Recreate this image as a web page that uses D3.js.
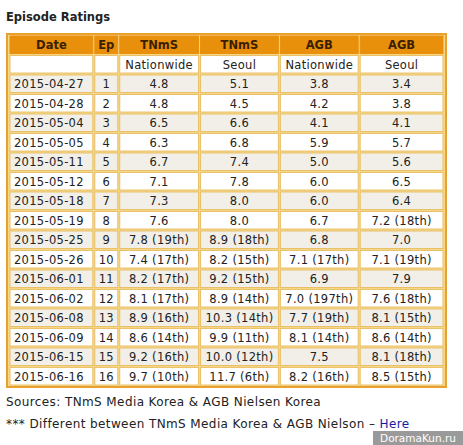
<!DOCTYPE html><html><head><meta charset="utf-8"><script src="https://cdn.jsdelivr.net/npm/d3@7"></script>
<style>body{margin:0;background:#fff}text{font-family:"DejaVu Sans",Verdana,sans-serif}</style></head><body>
<svg id="c" width="463" height="445"></svg>
<script>
const headers=["Date","Ep","TNmS","TNmS","AGB","AGB"];
const subheaders=["","","Nationwide","Seoul","Nationwide","Seoul"];
const dates=["2015-04-27","2015-04-28","2015-05-04","2015-05-05","2015-05-11","2015-05-12","2015-05-18","2015-05-19","2015-05-25","2015-05-26","2015-06-01","2015-06-02","2015-06-08","2015-06-09","2015-06-15","2015-06-16"];
const eps=["1","2","3","4","5","6","7","8","9","10","11","12","13","14","15","16"];
const tnmsNation=["4.8","4.8","6.5","6.3","6.7","7.1","7.3","7.6","7.8 (19th)","7.4 (17th)","8.2 (17th)","8.1 (17th)","8.9 (16th)","8.6 (14th)","9.2 (16th)","9.7 (10th)"];
const tnmsSeoul=["5.1","4.5","6.6","6.8","7.4","7.8","8.0","8.0","8.9 (18th)","8.2 (15th)","9.2 (15th)","8.9 (14th)","10.3 (14th)","9.9 (11th)","10.0 (12th)","11.7 (6th)"];
const agbNation=["3.8","4.2","4.1","5.9","5.0","6.0","6.0","6.7","6.8","7.1 (17th)","6.9","7.0 (197th)","7.7 (19th)","8.1 (14th)","7.5","8.2 (16th)"];
const agbSeoul=["3.4","3.8","4.1","5.7","5.6","6.5","6.4","7.2 (18th)","7.0","7.1 (19th)","7.9","7.6 (18th)","8.1 (15th)","8.6 (14th)","8.1 (18th)","8.5 (15th)"];
const colWidths=[85,25,81,80,80,85];

const svg=d3.select("#c");
svg.append("text").attr("x",6).attr("y",21).attr("font-size",11.5).attr("font-weight","bold").attr("fill","#222").text("Episode Ratings");
const rows=[headers,subheaders].concat(dates.map((d,i)=>[d,eps[i],tnmsNation[i],tnmsSeoul[i],agbNation[i],agbSeoul[i]]));
const x0=8,x1=445,y0=35,y1=386;
svg.append("rect").attr("x",x0-2).attr("y",y0-2).attr("width",x1-x0+4).attr("height",y1-y0+4).attr("fill","#e8a030");
svg.append("rect").attr("x",x0).attr("y",y0).attr("width",x1-x0).attr("height",y1-y0).attr("fill","#f6d88a");
const cum=[0];colWidths.forEach(w=>cum.push(cum[cum.length-1]+w));
const xs=d3.scaleLinear().domain([0,cum[cum.length-1]]).range([x0+1,x1-1]);
const ys=d3.scaleBand().domain(d3.range(rows.length)).range([y0+1,y1-1]).paddingInner(0.1);
rows.forEach((r,ri)=>{
  r.forEach((v,ci)=>{
    const cx=xs(cum[ci])+1, cw=xs(cum[ci+1])-xs(cum[ci])-2;
    const fill=ri===0?"#e8900c":(ri>=2&&ri%2===0?"#f1efe8":"#fff");
    svg.append("rect").attr("x",cx).attr("y",ys(ri)).attr("width",cw).attr("height",ys.bandwidth())
      .attr("fill",fill).attr("stroke",ri===0?"#e8900c":"#e9c067").attr("stroke-width",1);
    const isLeft=ri>=2&&ci===0;
    svg.append("text").attr("x",isLeft?cx+4:cx+cw/2).attr("y",ys(ri)+ys.bandwidth()/2+4.5)
      .attr("text-anchor",isLeft?"start":"middle").attr("font-size",11.5).attr("letter-spacing",ri>=1?0.3:0)
      .attr("font-weight",ri===0?"bold":"normal").attr("fill",ri===0?"#3a2000":"#222").text(v);
  });
});
svg.append("text").attr("x",6).attr("y",406).attr("font-size",12).attr("letter-spacing",0.4).attr("fill","#222").text("Sources: TNmS Media Korea & AGB Nielsen Korea");
const t=svg.append("text").attr("x",6).attr("y",428).attr("font-size",12).attr("letter-spacing",0.4).attr("fill","#222");
t.append("tspan").text("*** Different between TNmS Media Korea & AGB Nielson – ");
t.append("tspan").attr("fill","#1a1aa0").text("Here");
svg.append("rect").attr("x",373).attr("y",431).attr("width",90).attr("height",14).attr("fill","#9a9a9a");
svg.append("text").attr("x",418).attr("y",442).attr("text-anchor","middle").attr("font-size",10.5).attr("fill","#fff").text("DoramaKun.ru");
</script></body></html>
